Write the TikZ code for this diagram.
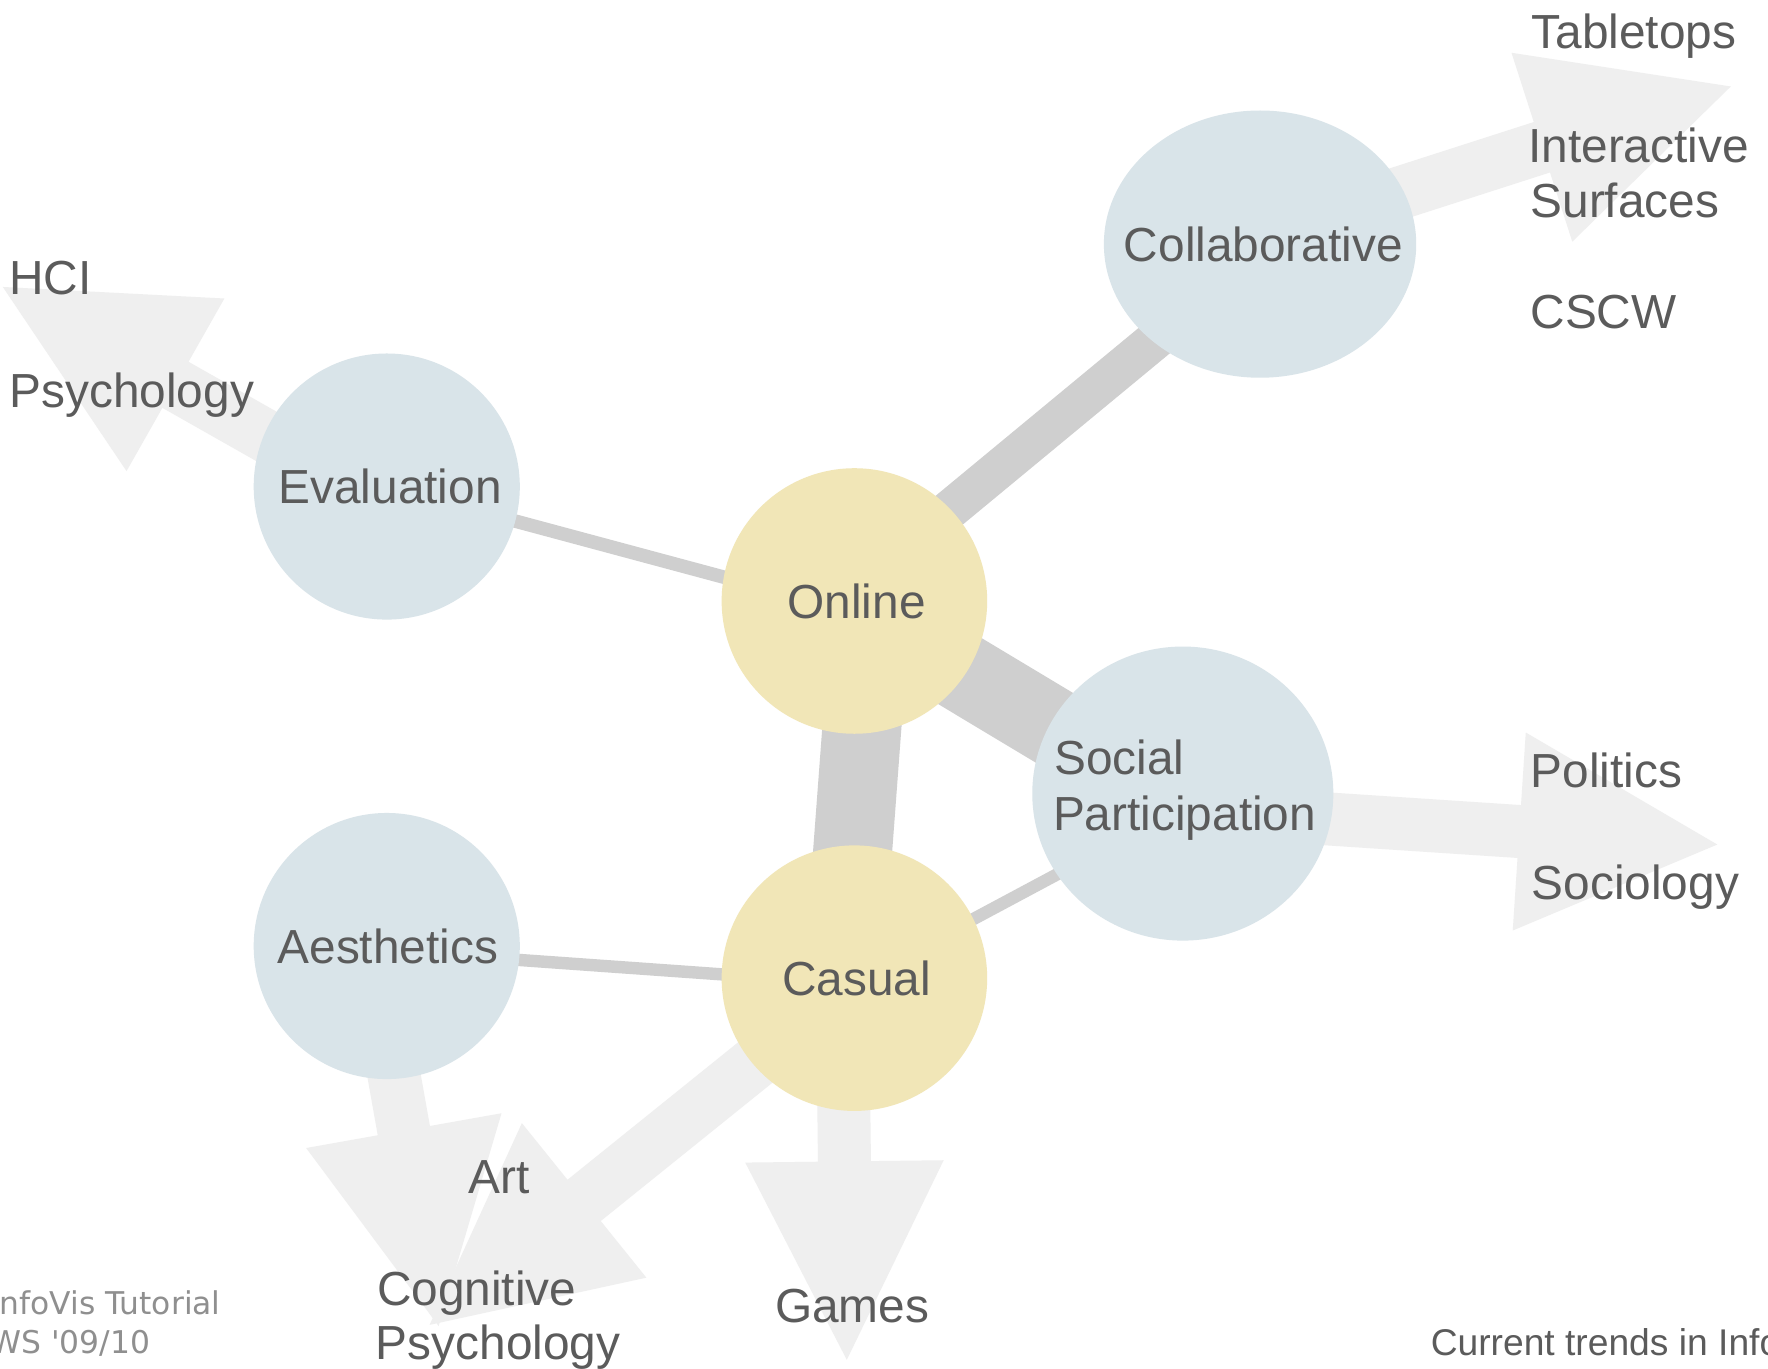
\documentclass[tikz,border=0pt]{standalone}
\usepackage{fontspec}
\setmainfont{Liberation Sans}
\newfontfamily\footfont{DejaVu Sans}
\usetikzlibrary{calc,shapes.geometric}
\pgfdeclarelayer{bg}
\pgfsetlayers{bg,main}
\definecolor{txtgray}{HTML}{5B5B5B}
\definecolor{footgray}{HTML}{8F8F8F}
\definecolor{yellowc}{HTML}{F1E6B7}
\definecolor{bluec}{HTML}{D9E4E9}
\definecolor{bandgray}{HTML}{CFCFCF}
\definecolor{arrowfill}{HTML}{EFEFEF}
\newcommand\BigArrow[2]{%
  \coordinate (#2-m) at ($(#2)!88pt!(#1)$);
  \fill[arrowfill] (#2)
    -- ($(#2-m)!44pt!90:(#2)$)
    -- ($(#2-m)!11.75pt!90:(#2)$)
    -- ($(#1)!11.75pt!90:(#2)$)
    -- ($(#1)!11.75pt!-90:(#2)$)
    -- ($(#2-m)!11.75pt!-90:(#2)$)
    -- ($(#2-m)!44pt!-90:(#2)$)
    -- cycle;}
\begin{document}
\begin{tikzpicture}[x=0.5pt,y=-0.5pt,
  yblob/.style={circle, fill=yellowc, draw=none, inner sep=0pt, minimum size=117.75pt},
  bblob/.style={circle, fill=bluec, draw=none, inner sep=0pt, minimum size=118pt},
  intext/.style={font=\fontsize{21.2}{24.2}\selectfont, text=txtgray, inner sep=0pt},
  lbl/.style={font=\fontsize{21.2}{24.2}\selectfont, text=txtgray, inner sep=0pt, anchor=base west},
  band/.style={draw=bandgray, line cap=butt}]
\useasboundingbox (0,0) rectangle (1568,1214);

% main nodes
\node[yblob] (online) at (757.75,533) {};
\node[yblob] (casual) at (757.75,867.5) {};
\node[bblob] (eval) at (343,431.5) {};
\node[bblob] (aesth) at (343,839) {};
\node[bblob, ellipse, minimum width=138.5pt, minimum height=118.5pt] (collab) at (1117.5,216.5) {};
\node[bblob, ellipse, minimum width=133.5pt, minimum height=130.4pt] (social) at (1049,703.8) {};

% node texts
\node[intext] (onlineT) at ($(online)+(2,0)$) {Online};
\node[intext] (casualT) at ($(casual)+(2,0)$) {Casual};
\node[intext] (evalT) at ($(eval)+(3,0)$) {Evaluation};
\node[intext] (aesthT) at ($(aesth)+(1,0)$) {Aesthetics};
\node[intext] (collabT) at ($(collab)+(3,0)$) {Collaborative};
\node[lbl] (socialT1) at (934.5,687) {Social};
\node[lbl] (socialT2) at (933.5,736.5) {Participation};

% outer labels
\node[lbl] (hci) at (8,260.8) {HCI};
\node[lbl] (psy) at (8,361) {Psychology};
\node[lbl] (tab) at (1358,43.4) {Tabletops};
\node[lbl] (inter1) at (1355,144) {Interactive};
\node[lbl] (inter2) at (1357,192.6) {Surfaces};
\node[lbl] (cscw) at (1357,291.4) {CSCW};
\node[lbl] (pol) at (1357,698.5) {Politics};
\node[lbl] (soc) at (1358,797.3) {Sociology};
\node[lbl] (art) at (415,1058.9) {Art};
\node[lbl] (cog1) at (334,1157.7) {Cognitive};
\node[lbl] (cog2) at (333,1206) {Psychology};
\node[lbl] (games) at (687,1173.2) {Games};

% footers
\node[lbl, font=\fontsize{16.5}{19}\selectfont] (foot1) at (1268.5,1202.2) {Current trends in InfoVis};
\node[lbl, font=\footfont\fontsize{13.9}{16}\selectfont, text=footgray] (foot2) at (-9,1165.4) {InfoVis Tutorial};
\node[lbl, font=\footfont\fontsize{13.9}{16}\selectfont, text=footgray] (foot3) at (-9,1200.3) {WS '09/10};

\begin{pgfonlayer}{bg}
  \fill[white] (0,0) rectangle (1568,1214);
  % arrow start / tip coordinates
  \coordinate (sEval) at ($(eval)+(0,16)$);
  \coordinate (tHCI) at (2.5,254.5);
  \coordinate (sCollab) at ($(collab)+(0,-5.5)$);
  \coordinate (tTab) at (1535,76.7);
  \coordinate (sSocial) at ($(social)+(0,14)$);
  \coordinate (tPol) at (1523,749);
  \coordinate (sCasG) at ($(casual)+(-10.75,0)$);
  \coordinate (tGames) at (751,1206);
  \coordinate (sAesth) at ($(aesth)+(-14,0)$);
  \coordinate (tArt) at (389,1176);
  \coordinate (sCasC) at ($(casual)+(0,4)$);
  \coordinate (tCog) at (381,1175);

  \BigArrow{sEval}{tHCI}
  \BigArrow{sCollab}{tTab}
  \BigArrow{sSocial}{tPol}
  \BigArrow{sCasG}{tGames}
  \BigArrow{sAesth}{tArt}
  \BigArrow{sCasC}{tCog}

  % gray bands between nodes
  \draw[band, line width=6pt] (eval.center) -- ($(online)+(0,10)$);
  \draw[band, line width=5.5pt] ($(aesth)+(0,4)$) -- ($(casual)+(0,5)$);
  \draw[band, line width=5.5pt] ($(casual)+(0,4)$) -- ($(social)+(0,12)$);
  \draw[band, line width=17.5pt] ($(online)+(0,-11)$) -- ($(collab)+(0,8)$);
  \draw[band, line width=35pt] ($(online)+(0,6)$) -- ($(social)+(0,10)$);
  \draw[band, line width=35pt] ($(online)+(15,0)$) -- ($(casual)+(-10,0)$);
\end{pgfonlayer}
\end{tikzpicture}
\end{document}
